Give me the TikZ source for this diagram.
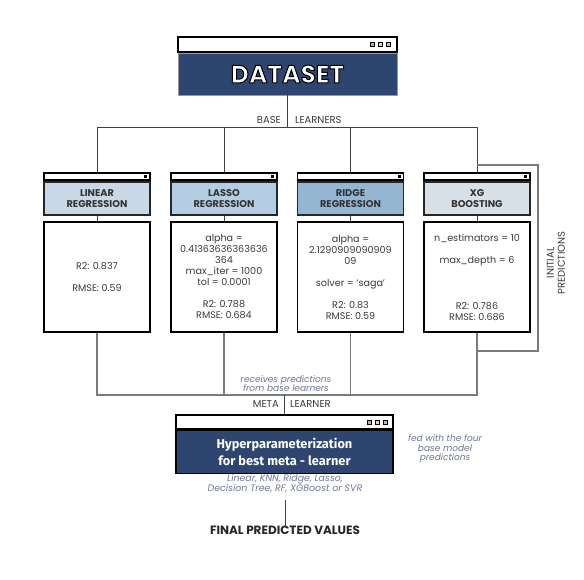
\documentclass[tikz,border=0pt]{standalone}
\usepackage{fontspec}
\setmainfont{Poppins}
\newfontfamily\metafont{Fira Sans}
\usetikzlibrary{positioning}

\definecolor{dsblue}{HTML}{2E4570}
\definecolor{linfill}{HTML}{C9D7E6}
\definecolor{lasfill}{HTML}{B5CDE2}
\definecolor{ridfill}{HTML}{95B6D3}
\definecolor{xgfill}{HTML}{D8E0E8}
\definecolor{notegray}{HTML}{6E7595}
\definecolor{linegray}{HTML}{7A7A7A}
\definecolor{txtgray}{HTML}{3A3A3A}
\definecolor{dotred}{HTML}{D8A093}
\definecolor{dotyel}{HTML}{F1D69C}
\definecolor{dotteal}{HTML}{A7C7CB}

% white letters with a black outline (fill + stroke render mode)
\newcommand{\outlined}[1]{\special{pdf:literal direct 2 Tr 1.0 w 0 G}#1\special{pdf:literal direct 0 Tr}}

\tikzset{
  winbar/.style={draw, line width=1.6pt, fill=white, inner sep=0pt, minimum width=#1},
  bigbody/.style={fill=dsblue, inner sep=0pt, minimum width=#1, text=white},
  ttlbox/.style={draw=black!85, line width=1.4pt, minimum width=106pt, minimum height=33pt,
    inner sep=0pt, align=center, font=\fontsize{9.8}{11}\selectfont\bfseries, text=black!80},
  parbox/.style={draw, line width=1.6pt, minimum width=106pt, minimum height=110pt,
    inner sep=0pt, align=center, font=\fontsize{9.6}{11}\selectfont, text=txtgray},
  caplbl/.style={font=\fontsize{10}{12}\selectfont, text=txtgray, inner sep=0pt},
  note/.style={font=\fontsize{9}{9.5}\selectfont\itshape, text=notegray, align=center, inner sep=0pt},
  bus/.style={draw=black!75, line width=0.9pt},
  feed/.style={draw=linegray, line width=1.1pt},
  dot/.style={draw, line width=0.7pt, fill=#1, minimum size=4pt, inner sep=0pt},
}

\begin{document}
\begin{tikzpicture}[x=1pt, y=-1pt]
  \useasboundingbox (0,0) rectangle (584,579);

  % dataset window
  \node[winbar=219pt, minimum height=15pt] (dsbar) at (287.5,44.5) {};
  \node[bigbody=219pt, minimum height=42pt, draw=black!40, line width=0.6pt] (ds) [below=0pt of dsbar]
    {\fontsize{25}{28}\selectfont\bfseries\outlined{DATASET}};
  \node[dot=dotred] at (372,44.5) {};
  \node[dot=dotyel] at (380,44.5) {};
  \node[dot=dotteal] at (388,44.5) {};

  % base learners
  \coordinate (topbus) at (287.5,127);
  \node[caplbl, anchor=east] (baselbl) at (281,120) {BASE};
  \node[caplbl, anchor=west] (learnlbl) at (295,120) {LEARNERS};

  \foreach \x/\n/\col/\ttl/\prm in {
      97/lin/linfill/{LINEAR\\REGRESSION}/{R2: 0.837\\[11pt]RMSE: 0.59},
      224/las/lasfill/{LASSO\\REGRESSION}/{alpha =\\0.41363636363636\\364\\max\_iter = 1000\\tol = 0.0001\\[11pt]R2: 0.788\\RMSE: 0.684},
      350.5/rid/ridfill/{RIDGE\\REGRESSION}/{alpha =\\2.1290909090909\\09\\[11pt]solver = ‘saga’\\[11pt]R2: 0.83\\RMSE: 0.59},
      477/xg/xgfill/{XG\\BOOSTING}/{n\_estimators = 10\\[11pt]max\_depth = 6\\[35pt]R2: 0.786\\RMSE: 0.686}} {
    \node[winbar=106pt, minimum height=7pt] (\n bar) at (\x,176.5) {};
    \fill ([xshift=-5pt]\n bar.east) ++(-1.5,-1.5) rectangle ++(3,3);
    \node[ttlbox, fill=\col] (\n ttl) [below=0.5pt of \n bar] {\ttl};
    \node[parbox] (\n par) at (\x,277) {\prm};
    \draw[bus] (\n ttl.south) -- (\n par.north);
    \draw[bus] (\n bar.north) -- (\n bar.north |- topbus);
    \draw[feed] (\n par.south) -- ++(0,63);
  }
  \draw[bus] (ds.south) -- (topbus);
  \draw[bus] (linbar.north |- topbus) -- (xgbar.north |- topbus);

  % feedback of initial predictions
  \coordinate (fb1) at (538,165);
  \coordinate (fb2) at (538,351);
  \draw[feed] (xgbar.north |- fb1) -- (fb1) -- (fb2) -- (xgpar.south |- fb2);
  \node[caplbl, font=\fontsize{10}{11}\selectfont, rotate=90, align=center] (initlbl) at (556,263)
    {INITIAL\\PREDICTIONS};

  % meta learner
  \coordinate (metabus) at (284.5,395);
  \draw[feed] (linpar.south |- metabus) -- (xgpar.south |- metabus);
  \node[note] (recv) at (286,383.5) {receives predictions\\from base learners};
  \node[caplbl, anchor=east] (metalbl) at (279,404) {META};
  \node[caplbl, anchor=west] (learnerlbl) at (290,404) {LEARNER};

  \node[winbar=217pt, minimum height=14pt] (metabar) at (284.5,422) {};
  \node[dot=dotred] at (369,422) {};
  \node[dot=dotyel] at (377,422) {};
  \node[dot=dotteal] at (385,422) {};
  \node[bigbody=217pt, minimum height=43pt, draw, line width=1.6pt, align=center,
        font=\metafont\fontsize{12.8}{17}\selectfont\bfseries] (meta) [below=0pt of metabar]
    {Hyperparameterization\\for best meta - learner};
  \draw[bus] (metabus) -- (metabar.north);

  \node[note, font=\fontsize{9.4}{10}\selectfont\itshape] (models) at (285,484)
    {Linear, KNN, Ridge, Lasso,\\Decision Tree, RF, XGBoost or SVR};
  \node[note] (fed) at (445,449) {fed with the four\\base model\\predictions};

  % output
  \node[font=\fontsize{12}{14}\selectfont\bfseries, text=black!85, inner sep=0pt] (final) at (285,530)
    {FINAL PREDICTED VALUES};
  \draw[bus] ([yshift=-7pt]models.south) -- ([yshift=-3pt]final.north);
\end{tikzpicture}
\end{document}
